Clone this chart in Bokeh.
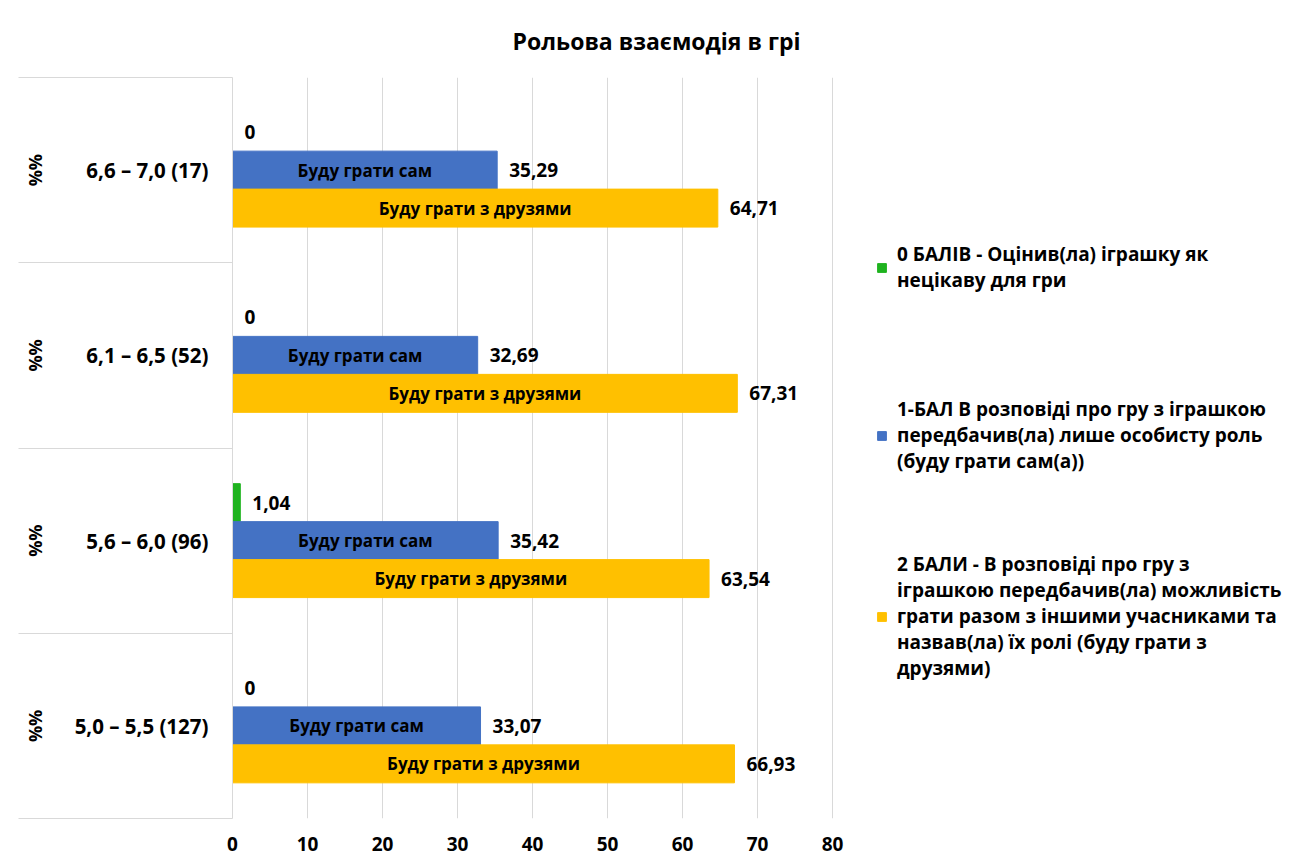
from bokeh.plotting import figure
from bokeh.models import (Range1d, LinearAxis, FixedTicker,
                          ColumnDataSource, Legend, LegendItem)
from bokeh.core.properties import value
from bokeh.embed import file_html
from bokeh.resources import INLINE

# ---------------- data ----------------
chart_title = "Рольова взаємодія в грі"
categories = ["6,6 – 7,0 (17)", "6,1 – 6,5 (52)", "5,6 – 6,0 (96)", "5,0 – 5,5 (127)"]
group_label = "%%"
series_names = [
    "0 БАЛІВ - Оцінив(ла) іграшку як\nнецікаву для гри",
    "1-БАЛ В розповіді про гру з іграшкою\nпередбачив(ла) лише особисту роль\n(буду грати сам(а))",
    "2 БАЛИ - В розповіді про гру з\nіграшкою передбачив(ла) можливість\nграти разом з іншими учасниками та\nназвав(ла) їх ролі (буду грати з\nдрузями)",
]
bar_texts = ["", "Буду грати сам", "Буду грати з друзями"]
score0 = [0, 0, 1.04, 0]
score1 = [35.29, 32.69, 35.42, 33.07]
score2 = [64.71, 67.31, 63.54, 66.93]
x_ticks = [0, 10, 20, 30, 40, 50, 60, 70, 80]

# ---------------- style / layout ----------------
FONT = "Open Sans"
colors = ["#1FB31F", "#4472C4", "#FFC000"]
GRID = "#d9d9d9"
series_values = [score0, score1, score2]
offsets = [0.205, 0.0, -0.205]
bar_h = 0.205
legend_pos = [(644, 525), (644, 344), (644, 137)]
SEP_LEN = 214
AXIS_PX = 600            # pixels spanned by 0..80
FRAME_W = 1059           # frame also hosts the legend on the right
FRAME_H = 741


def fmt(v):
    return "0" if v == 0 else f"{v:.2f}".replace(".", ",")


n = len(categories)
# category slot centres: first category at the top
slot = {c: (n - 1 - i) + 0.5 for i, c in enumerate(categories)}
x_end = x_ticks[-1] * FRAME_W / AXIS_PX

p = figure(y_range=Range1d(0, n), x_range=Range1d(0, x_end),
           frame_width=FRAME_W, frame_height=FRAME_H,
           min_border_left=232, min_border_right=0, min_border_top=77, min_border_bottom=37,
           output_backend="svg", toolbar_location=None, y_axis_location=None)
p.outline_line_color = None
p.background_fill_color = "white"
p.border_fill_color = "white"

# title
p.title.text = chart_title
p.title.align = "left"
p.title.offset = 280
p.title.standoff = 42
p.title.text_font = FONT
p.title.text_font_size = "23px"
p.title.text_font_style = "bold"
p.title.text_color = "#000000"

# x axis
p.xaxis.ticker = FixedTicker(ticks=x_ticks)
p.xaxis.axis_line_color = None
p.xaxis.major_tick_line_color = None
p.xaxis.minor_tick_line_color = None
p.xaxis.major_tick_out = 0
p.xaxis.major_tick_in = 0
p.xaxis.major_label_standoff = 18
p.xaxis.major_label_text_font = FONT
p.xaxis.major_label_text_font_size = "19px"
p.xaxis.major_label_text_font_style = "bold"
p.xaxis.major_label_text_color = "#000000"
p.xgrid.grid_line_color = GRID
p.ygrid.visible = False

# category axes
centers = [slot[c] for c in categories]
bounds = [float(i) for i in range(n + 1)]

cat_axis = LinearAxis(ticker=FixedTicker(ticks=centers, minor_ticks=bounds),
                      major_label_overrides={slot[c]: c for c in categories},
                      axis_line_color=GRID, major_tick_line_color=None,
                      major_tick_out=0, major_tick_in=0,
                      minor_tick_line_color=GRID, minor_tick_in=0, minor_tick_out=SEP_LEN,
                      major_label_standoff=24 - SEP_LEN,
                      major_label_text_font=FONT, major_label_text_font_size="20.5px",
                      major_label_text_font_style="bold", major_label_text_color="#000000")
p.add_layout(cat_axis, "left")

grp_axis = LinearAxis(ticker=FixedTicker(ticks=centers),
                      major_label_overrides={slot[c]: group_label for c in categories},
                      major_label_orientation="vertical",
                      axis_line_color=None, major_tick_line_color=None,
                      minor_tick_line_color=None, major_tick_out=0, major_tick_in=0,
                      major_label_standoff=25,
                      major_label_text_font=FONT, major_label_text_font_size="18px",
                      major_label_text_font_style="bold", major_label_text_color="#000000")
p.add_layout(grp_axis, "left")

# bars, labels, legends
for k in range(len(series_values)):
    vals = series_values[k]
    src = ColumnDataSource(dict(cat=categories, val=vals,
                                y=[slot[c] + offsets[k] for c in categories],
                                mid=[v / 2 for v in vals],
                                lbl=[fmt(v) for v in vals],
                                inner=[bar_texts[k]] * n))
    r = p.hbar(y="y", left=0, right="val", height=bar_h,
               fill_color=colors[k], line_color=colors[k], source=src)
    p.text(x="val", y="y", text="lbl", x_offset=12, text_align="left",
           text_baseline="middle", text_font=value(FONT), text_font_style="bold",
           text_font_size="19px", text_color="#000000", source=src)
    if bar_texts[k]:
        p.text(x="mid", y="y", text="inner", text_align="center",
               text_baseline="middle", text_font=value(FONT), text_font_style="bold",
               text_font_size="17px", text_color="#000000", source=src)
    leg = Legend(items=[LegendItem(label=series_names[k], renderers=[r])],
                 location=legend_pos[k], orientation="vertical",
                 border_line_color=None, background_fill_alpha=0,
                 padding=0, margin=0, spacing=0,
                 glyph_width=11, glyph_height=11, label_standoff=10,
                 label_text_font=FONT, label_text_font_size="19px",
                 label_text_font_style="bold", label_text_color="#000000",
                 label_text_line_height=1.68)
    p.add_layout(leg)

open("out.html", "w").write(file_html(p, INLINE))
